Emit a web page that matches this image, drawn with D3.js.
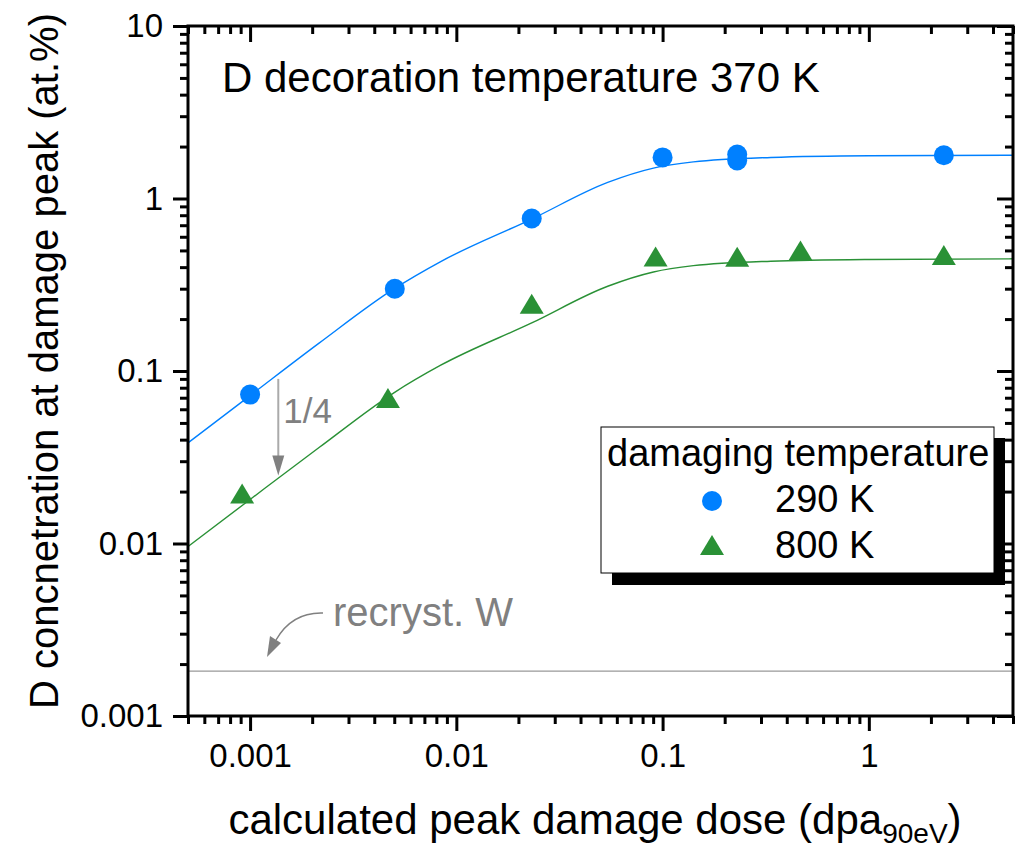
<!DOCTYPE html>
<html>
<head>
<meta charset="utf-8">
<script src="https://cdn.jsdelivr.net/npm/d3@7"></script>
<style>
  body { margin: 0; background: #fff; }
  svg { display: block; font-family: 'Liberation Sans', Arial, sans-serif; }
</style>
</head>
<body>
<svg id="chart" width="1028" height="845"></svg>
<script>
// measured points, 290 K damaging temperature
const dose290 = [0.001, 0.00503, 0.0232, 0.1, 0.23, 0.23, 2.31]
const conc290 = [0.073, 0.30, 0.766, 1.73, 1.80, 1.66, 1.78]
// measured points, 800 K damaging temperature
const dose800 = [0.000915, 0.00466, 0.0232, 0.0925, 0.23, 0.466, 2.31]
const conc800 = [0.0195, 0.0697, 0.245, 0.461, 0.46, 0.50, 0.47]

// fit curves
const fitDose = [0.0005, 0.001, 0.00216, 0.005, 0.0084, 0.0232, 0.0542, 0.0903, 0.141, 0.335, 1, 5]
const fit290 = [0.0383, 0.072, 0.145, 0.30, 0.431, 0.76, 1.24, 1.50, 1.63, 1.73, 1.77, 1.78]
const fit800 = [0.0096, 0.018, 0.036, 0.075, 0.108, 0.19, 0.31, 0.375, 0.408, 0.433, 0.443, 0.447]

const xMajor = [0.001, 0.01, 0.1, 1]
const yMajor = [0.001, 0.01, 0.1, 1, 10]
const tickLabel = { 0.001: '0.001', 0.01: '0.01', 0.1: '0.1', 1: '1', 10: '10' }

const recrystLevel = 0.00182
const quarterArrow = { dose: 0.00137, from: 0.09, to: 0.0248 }

const blue = '#0080ff'
const green = '#2a9136'
const grey = '#808080'

const mLeft = 188
const mTop = 26
const mRight = 1013
const mBottom = 716

const svg = d3.select('#chart')

const x = d3.scaleLog().domain([0.0005, 5]).range([mLeft, mRight])
const y = d3.scaleLog().domain([0.001, 10]).range([mBottom, mTop])

// minor ticks 2..9 in every decade inside the domain
function minors (scale) {
  const [a, b] = scale.domain()
  const out = []
  for (let e = Math.floor(Math.log10(a)); e <= Math.ceil(Math.log10(b)); e++) {
    for (let m = 2; m <= 9; m++) {
      const v = m * Math.pow(10, e)
      if (v >= a * 0.999 && v <= b * 1.001) out.push(v)
    }
  }
  return out
}

function styleAxis (g) {
  g.select('.domain').remove()
  g.selectAll('line').attr('stroke', '#000').attr('stroke-width', 3)
  g.selectAll('text').attr('fill', '#000').attr('font-size', 33)
}

// bottom axis
svg.append('g').attr('transform', `translate(0,${mBottom})`)
  .call(d3.axisBottom(x).tickValues(xMajor).tickSize(15).tickPadding(13).tickFormat(d => tickLabel[d]))
  .call(styleAxis)
svg.append('g').attr('transform', `translate(0,${mBottom})`)
  .call(d3.axisBottom(x).tickValues(minors(x)).tickSize(8).tickFormat(''))
  .call(styleAxis)
// top axis, ticks inward
svg.append('g').attr('transform', `translate(0,${mTop})`)
  .call(d3.axisTop(x).tickValues(xMajor).tickSize(-16).tickFormat(''))
  .call(styleAxis)
svg.append('g').attr('transform', `translate(0,${mTop})`)
  .call(d3.axisTop(x).tickValues(minors(x)).tickSize(-8).tickFormat(''))
  .call(styleAxis)
// left axis
svg.append('g').attr('transform', `translate(${mLeft},0)`)
  .call(d3.axisLeft(y).tickValues(yMajor).tickSize(15).tickPadding(10).tickFormat(d => tickLabel[d]))
  .call(styleAxis)
svg.append('g').attr('transform', `translate(${mLeft},0)`)
  .call(d3.axisLeft(y).tickValues(minors(y)).tickSize(8).tickFormat(''))
  .call(styleAxis)

// recrystallised W level
svg.append('line')
  .attr('x1', mLeft).attr('x2', mRight)
  .attr('y1', y(recrystLevel)).attr('y2', y(recrystLevel))
  .attr('stroke', '#999').attr('stroke-width', 1.3)

// fit curves
const line = d3.line().x(d => x(d[0])).y(d => y(d[1])).curve(d3.curveMonotoneX)
svg.append('path')
  .attr('d', line(fitDose.map((d, i) => [d, fit290[i]])))
  .attr('fill', 'none').attr('stroke', blue).attr('stroke-width', 1.4)
svg.append('path')
  .attr('d', line(fitDose.map((d, i) => [d, fit800[i]])))
  .attr('fill', 'none').attr('stroke', green).attr('stroke-width', 1.4)

// markers
const tri = (cx, cy, w, h) => `M${cx},${cy - h / 2}L${cx + w / 2},${cy + h / 2}L${cx - w / 2},${cy + h / 2}Z`

svg.append('g').selectAll('circle')
  .data(dose290.map((d, i) => [d, conc290[i]]))
  .join('circle')
  .attr('cx', d => x(d[0]))
  .attr('cy', d => y(d[1]))
  .attr('r', 10)
  .attr('fill', blue)

svg.append('g').selectAll('path')
  .data(dose800.map((d, i) => [d, conc800[i]]))
  .join('path')
  .attr('d', d => tri(x(d[0]), y(d[1]), 24, 20))
  .attr('fill', green)

// 1/4 arrow
const ax = x(quarterArrow.dose)
svg.append('line')
  .attr('x1', ax).attr('x2', ax)
  .attr('y1', y(quarterArrow.from)).attr('y2', y(quarterArrow.to) - 18)
  .attr('stroke', '#aaa').attr('stroke-width', 2)
svg.append('path')
  .attr('d', `M${ax},${y(quarterArrow.to)}L${ax - 6},${y(quarterArrow.to) - 20}L${ax + 6},${y(quarterArrow.to) - 20}Z`)
  .attr('fill', grey)
svg.append('text')
  .attr('x', ax + 5).attr('y', 423)
  .attr('font-size', 35).attr('fill', grey)
  .text('1/4')

// recryst. W label + curved arrow
svg.append('text')
  .attr('x', 333).attr('y', 626)
  .attr('font-size', 40).attr('fill', grey)
  .text('recryst. W')
svg.append('path')
  .attr('d', 'M323,613 Q292,612 276,640')
  .attr('fill', 'none').attr('stroke', grey).attr('stroke-width', 1.5)
svg.append('path')
  .attr('d', 'M267,657 L270,636 L281,643 Z')
  .attr('fill', grey)

// title inside the plot
svg.append('text')
  .attr('x', 222).attr('y', 92)
  .attr('font-size', 42).attr('fill', '#000')
  .text('D decoration temperature 370 K')

// legend with shadow
svg.append('rect').attr('x', 612).attr('y', 438).attr('width', 393).attr('height', 147).attr('fill', '#000')
svg.append('rect').attr('x', 601).attr('y', 427).attr('width', 393).attr('height', 146)
  .attr('fill', '#fff').attr('stroke', '#000').attr('stroke-width', 1)
svg.append('text').attr('x', 607).attr('y', 466).attr('font-size', 38).text('damaging temperature')
svg.append('circle').attr('cx', 712).attr('cy', 501).attr('r', 10).attr('fill', blue)
svg.append('text').attr('x', 775).attr('y', 512).attr('font-size', 38).text('290 K')
svg.append('path').attr('d', tri(712, 545, 24, 20)).attr('fill', green)
svg.append('text').attr('x', 775).attr('y', 558).attr('font-size', 38).text('800 K')

// right axis, ticks inward (drawn over the legend shadow)
svg.append('g').attr('transform', `translate(${mRight},0)`)
  .call(d3.axisRight(y).tickValues(yMajor).tickSize(-16).tickFormat(''))
  .call(styleAxis)
svg.append('g').attr('transform', `translate(${mRight},0)`)
  .call(d3.axisRight(y).tickValues(minors(y)).tickSize(-8).tickFormat(''))
  .call(styleAxis)

// frame
svg.append('rect')
  .attr('x', mLeft).attr('y', mTop)
  .attr('width', mRight - mLeft).attr('height', mBottom - mTop)
  .attr('fill', 'none').attr('stroke', '#000').attr('stroke-width', 3)

// axis titles
const xt = svg.append('text')
  .attr('x', 595).attr('y', 834)
  .attr('text-anchor', 'middle').attr('font-size', 42)
xt.append('tspan').text('calculated peak damage dose (dpa')
xt.append('tspan').attr('font-size', 28).attr('dy', 9).text('90eV')
xt.append('tspan').attr('dy', -9).text(')')

svg.append('text')
  .attr('transform', `translate(58,${(mTop + mBottom) / 2 - 10}) rotate(-90)`)
  .attr('text-anchor', 'middle').attr('font-size', 40)
  .text('D concnetration at damage peak (at.%)')
</script>
</body>
</html>
